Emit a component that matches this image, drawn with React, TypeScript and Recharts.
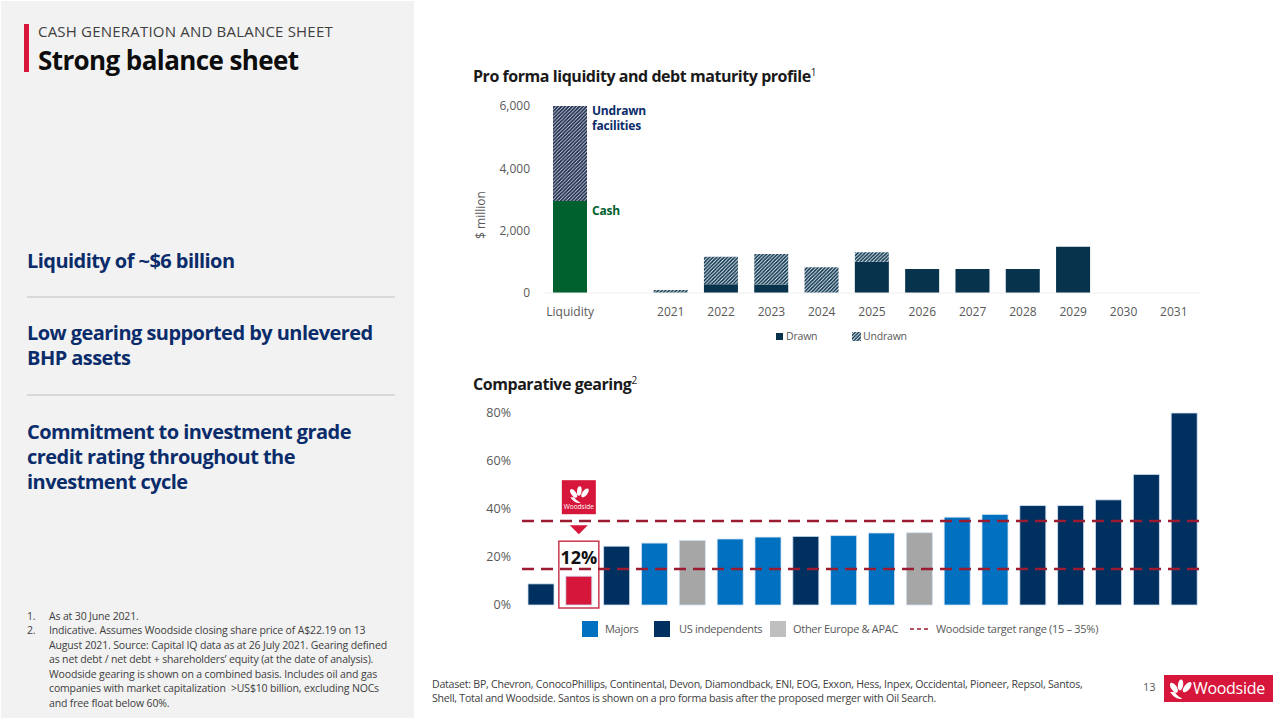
import React from 'react';
import { BarChart, Bar, XAxis, YAxis, Cell, ReferenceLine } from 'recharts';

// ---------- Data: debt maturity profile ----------
const maturityCategories = ['Liquidity', '', '2021', '2022', '2023', '2024', '2025', '2026', '2027', '2028', '2029', '2030', '2031'];
const drawnValues = [2950, 0, 0, 280, 270, 0, 1000, 770, 770, 770, 1480, 0, 0];
const undrawnValues = [3050, 0, 100, 880, 980, 830, 310, 0, 0, 0, 0, 0, 0];
const maturityTicks = [0, 2000, 4000, 6000];

// ---------- Data: comparative gearing ----------
const gearingCompanies = ['Peer 1', 'Woodside', 'Peer 3', 'Peer 4', 'Peer 5', 'Peer 6', 'Peer 7', 'Peer 8', 'Peer 9', 'Peer 10', 'Peer 11', 'Peer 12', 'Peer 13', 'Peer 14', 'Peer 15', 'Peer 16', 'Peer 17', 'Peer 18'];
const gearingGroups = ['US', 'Woodside', 'US', 'Majors', 'Other', 'Majors', 'Majors', 'US', 'Majors', 'Majors', 'Other', 'Majors', 'Majors', 'US', 'US', 'US', 'US', 'US'];
const gearingValues = [8.8, 12, 24.5, 25.8, 26.9, 27.5, 28.3, 28.6, 28.9, 30.0, 30.1, 36.6, 37.7, 41.4, 41.4, 43.8, 54.4, 80];
const gearingTicks = [0, 20, 40, 60, 80];
const targetLow = 15;
const targetHigh = 35;

const groupColors: Record<string, string> = {
  Majors: '#0070c0',
  US: '#00305f',
  Other: '#a6a6a6',
  Woodside: '#d6163a',
};

const maturityData = maturityCategories.map((c, i) => ({ category: c, drawn: drawnValues[i], undrawn: undrawnValues[i] }));
const gearingData = gearingCompanies.map((c, i) => ({ company: c, group: gearingGroups[i], value: gearingValues[i] }));

const FONT = '"Open Sans", "Noto Sans", sans-serif';
const NAVY = '#0b2c6a';
const RED = '#d6163a';
const DRAWN = '#07334d';
const CASH = '#00612e';
const DASH = '#9b1c31';
const TICK = '#595959';

const Petals = ({ x, y, s }: { x: number; y: number; s: number }) => (
  <g transform={`translate(${x},${y}) scale(${s})`} fill="#fff">
    <ellipse cx={-5.5} cy={-3} rx={2.6} ry={5.2} transform="rotate(-35 -5.5 -3)" />
    <ellipse cx={0.5} cy={-5.5} rx={2.4} ry={5} transform="rotate(8 0.5 -5.5)" />
    <ellipse cx={6.5} cy={-3.5} rx={2.6} ry={5.6} transform="rotate(38 6.5 -3.5)" />
    <path d="M-9,1 C-6,6 -1,8 2,7 C0,6 -3,4 -5,1 Z" />
  </g>
);

const GearingShape = (props: any) => {
  const { x, y, width, height, fill, payload } = props;
  const bar = <rect x={x} y={y} width={width} height={height} fill={fill} stroke="#cfe0f2" strokeWidth={0.8} />;
  if (!payload || payload.group !== 'Woodside') return bar;
  const cx = x + width / 2;
  const base = y + height;
  return (
    <g>
      {bar}
      <rect x={x - 7} y={y - 35} width={width + 14} height={base - y + 38} fill="none" stroke="#c8394f" strokeWidth={1.5} />
      <text x={cx} y={y - 19} textAnchor="middle" dominantBaseline="central" fontSize={18} fontWeight={700} fill="#111" fontFamily={FONT}>
        {`${Math.round(payload.value)}%`}
      </text>
      <polygon points={`${cx - 9},${y - 51} ${cx + 9},${y - 51} ${cx},${y - 42}`} fill={RED} />
      <rect x={cx - 17} y={y - 96} width={34} height={34} fill={RED} />
      <Petals x={cx} y={y - 80} s={0.95} />
      <text x={cx} y={y - 67} textAnchor="middle" fontSize={6.5} fill="#fff" fontFamily={FONT}>Woodside</text>
    </g>
  );
};

const abs = (left: number, top: number, extra: React.CSSProperties = {}): React.CSSProperties => ({
  position: 'absolute', left, top, whiteSpace: 'nowrap', ...extra,
});

const HatchIcon = () => (
  <svg width={9} height={9} style={{ display: 'block' }}>
    <defs>
      <pattern id="hatchLegend" patternUnits="userSpaceOnUse" width={3.5} height={3.5}>
        <rect width={3.5} height={3.5} fill="#fff" />
        <path d="M-1,1 l2,-2 M0,3.5 l3.5,-3.5 M2.5,4.5 l2,-2" stroke={DRAWN} strokeWidth={1.5} />
      </pattern>
    </defs>
    <rect width={9} height={9} fill="url(#hatchLegend)" />
  </svg>
);

const LegendSwatch = ({ left, color, label, textLeft }: { left: number; color: string; label: string; textLeft: number }) => (
  <>
    <div style={abs(left, 621, { width: 16, height: 16, background: color })} />
    <div style={abs(textLeft, 621, { fontSize: 11, letterSpacing: -0.3, lineHeight: '16px', color: TICK })}>{label}</div>
  </>
);

export default function App() {
  const headingStyle: React.CSSProperties = { color: NAVY, fontSize: 20, fontWeight: 700, lineHeight: '25px', letterSpacing: -0.55 };
  const footStyle: React.CSSProperties = { color: '#404040', fontSize: 10.5, lineHeight: '14.6px', letterSpacing: -0.15 };
  return (
    <div style={{ position: 'fixed', left: 0, top: 0, width: 1280, height: 720, background: '#fff', fontFamily: FONT, overflow: 'hidden' }}>
      {/* Left panel */}
      <div style={abs(1, 1, { width: 413, height: 717, background: '#f2f2f2' })} />
      <div style={abs(24, 24, { width: 4.5, height: 48, background: RED })} />
      <div style={abs(38, 22, { fontSize: 15, lineHeight: '18px', color: '#404040', letterSpacing: 0.2 })}>CASH GENERATION AND BALANCE SHEET</div>
      <div style={abs(38, 45, { fontSize: 26, lineHeight: '30px', fontWeight: 700, color: '#0d0d0d', letterSpacing: -0.6 })}>Strong balance sheet</div>

      <div style={abs(27, 248, headingStyle)}>Liquidity of ~$6 billion</div>
      <div style={abs(27, 296, { width: 368, height: 1.5, background: '#d9d9d9' })} />
      <div style={abs(27, 320, headingStyle)}>Low gearing supported by unlevered</div>
      <div style={abs(27, 345, headingStyle)}>BHP assets</div>
      <div style={abs(27, 394, { width: 368, height: 1.5, background: '#d9d9d9' })} />
      <div style={abs(27, 419, headingStyle)}>Commitment to investment grade</div>
      <div style={abs(27, 444, headingStyle)}>credit rating throughout the</div>
      <div style={abs(27, 469, headingStyle)}>investment cycle</div>

      <div style={abs(27, 608.5, footStyle)}>1.<br />2.</div>
      <div style={abs(49, 608.5, footStyle)}>
        As at 30 June 2021.<br />
        Indicative. Assumes Woodside closing share price of A$22.19 on 13<br />
        August 2021. Source: Capital IQ data as at 26 July 2021. Gearing defined<br />
        as net debt / net debt + shareholders’ equity (at the date of analysis).<br />
        Woodside gearing is shown on a combined basis. Includes oil and gas<br />
        companies with market capitalization &nbsp;&gt;US$10 billion, excluding NOCs<br />
        and free float below 60%.
      </div>

      {/* Top chart */}
      <div style={abs(473, 65, { fontSize: 16, fontWeight: 700, color: '#1a1a1a', lineHeight: '22px', letterSpacing: -0.45 })}>
        Pro forma liquidity and debt maturity profile<sup style={{ fontSize: 10, fontWeight: 400, verticalAlign: 'top', position: 'relative', top: -4 }}>1</sup>
      </div>
      <div style={abs(481, 215, { fontSize: 12, color: TICK, transform: 'translate(-50%,-50%) rotate(-90deg)', transformOrigin: 'center', lineHeight: '14px' })}>$ million</div>
      <div style={abs(470, 90)}>
        <BarChart width={740} height={260} data={maturityData} margin={{ top: 16, right: 11, bottom: 27, left: 0 }} barSize={34} barCategoryGap={0}>
          <defs>
            <pattern id="hatchNavy" patternUnits="userSpaceOnUse" width={3.6} height={3.6}>
              <rect width={3.6} height={3.6} fill="#fff" />
              <path d="M-1,1 l2,-2 M0,3.6 l3.6,-3.6 M2.6,4.6 l2,-2" stroke="#1b2a4e" strokeWidth={1.8} />
            </pattern>
            <pattern id="hatchTeal" patternUnits="userSpaceOnUse" width={3.6} height={3.6}>
              <rect width={3.6} height={3.6} fill="#fff" />
              <path d="M-1,1 l2,-2 M0,3.6 l3.6,-3.6 M2.6,4.6 l2,-2" stroke={DRAWN} strokeWidth={1.7} />
            </pattern>
          </defs>
          <XAxis dataKey="category" interval={0} tickLine={false} axisLine={{ stroke: '#eeeeee' }} tick={{ fontSize: 12, fill: TICK, fontFamily: FONT }} tickMargin={8} />
          <YAxis width={75} domain={[0, 6000]} ticks={maturityTicks} interval={0} tickLine={false} axisLine={false} tickSize={0} tickMargin={15}
            tick={{ fontSize: 12, fill: TICK, fontFamily: FONT }} tickFormatter={(v: number) => v.toLocaleString('en-US')} />
          <Bar dataKey="drawn" stackId="a" isAnimationActive={false}>
            {maturityData.map((d, i) => <Cell key={i} fill={i === 0 ? CASH : DRAWN} />)}
          </Bar>
          <Bar dataKey="undrawn" stackId="a" isAnimationActive={false}>
            {maturityData.map((d, i) => <Cell key={i} fill={i === 0 ? 'url(#hatchNavy)' : 'url(#hatchTeal)'} />)}
          </Bar>
        </BarChart>
      </div>
      <div style={abs(592, 103, { fontSize: 12, fontWeight: 700, color: NAVY, lineHeight: '15px', letterSpacing: -0.2 })}>Undrawn<br />facilities</div>
      <div style={abs(592, 203, { fontSize: 12, fontWeight: 700, color: CASH, lineHeight: '15px', letterSpacing: -0.2 })}>Cash</div>
      <div style={abs(776, 329, { fontSize: 10.5, color: TICK, lineHeight: '14px', display: 'flex', alignItems: 'center', letterSpacing: -0.2 })}>
        <span style={{ display: 'inline-block', width: 7, height: 7, background: DRAWN, marginRight: 3 }} />Drawn
      </div>
      <div style={abs(852, 329, { fontSize: 10.5, color: TICK, lineHeight: '14px', display: 'flex', alignItems: 'center', letterSpacing: -0.2 })}>
        <span style={{ marginRight: 2 }}><HatchIcon /></span>Undrawn
      </div>

      {/* Bottom chart */}
      <div style={abs(473, 373, { fontSize: 16, fontWeight: 700, color: '#1a1a1a', lineHeight: '22px', letterSpacing: -0.45 })}>
        Comparative gearing<sup style={{ fontSize: 10, fontWeight: 400, verticalAlign: 'top', position: 'relative', top: -4 }}>2</sup>
      </div>
      <div style={abs(470, 400)}>
        <BarChart width={733} height={215} data={gearingData} margin={{ top: 13, right: 0, bottom: 10, left: 0 }} barSize={26}>
          <XAxis dataKey="company" hide />
          <YAxis width={52} domain={[0, 80]} ticks={gearingTicks} interval={0} tickLine={false} axisLine={false} tickSize={0} tickMargin={11}
            tick={{ fontSize: 12.5, fill: TICK, fontFamily: FONT }} tickFormatter={(v: number) => `${v}%`} />
          <Bar dataKey="value" isAnimationActive={false} shape={<GearingShape />}>
            {gearingData.map((d, i) => <Cell key={i} fill={groupColors[d.group]} />)}
          </Bar>
          <ReferenceLine y={targetHigh} stroke={DASH} strokeWidth={2.5} strokeDasharray="12 7" />
          <ReferenceLine y={targetLow} stroke={DASH} strokeWidth={2.5} strokeDasharray="12 7" />
        </BarChart>
      </div>
      <LegendSwatch left={582} color={groupColors.Majors} label="Majors" textLeft={605} />
      <LegendSwatch left={654} color={groupColors.US} label="US independents" textLeft={679} />
      <LegendSwatch left={770} color="#bfbfbf" label="Other Europe & APAC" textLeft={793} />
      <svg style={abs(910, 627)} width={19} height={4}>
        <line x1={0} y1={2} x2={19} y2={2} stroke={DASH} strokeWidth={1.5} strokeDasharray="4 3" />
      </svg>
      <div style={abs(936, 621, { fontSize: 11, letterSpacing: -0.3, lineHeight: '16px', color: TICK })}>Woodside target range (15 – 35%)</div>

      {/* Footer */}
      <div style={abs(432, 677, { fontSize: 10.6, color: '#404040', lineHeight: '14px', letterSpacing: -0.25 })}>
        Dataset: BP, Chevron, ConocoPhillips, Continental, Devon, Diamondback, ENI, EOG, Exxon, Hess, Inpex, Occidental, Pioneer, Repsol, Santos,<br />
        Shell, Total and Woodside. Santos is shown on a pro forma basis after the proposed merger with Oil Search.
      </div>
      <div style={abs(1143, 680, { fontSize: 11, color: TICK, lineHeight: '14px' })}>13</div>
      <div style={abs(1164, 675, { width: 109, height: 27, background: RED })}>
        <svg width={109} height={27} style={{ display: 'block' }}>
          <Petals x={16} y={16} s={1.1} />
          <text x={29} y={19} fontSize={16} fill="#fff" fontFamily={FONT} letterSpacing={-0.3}>Woodside</text>
        </svg>
      </div>
    </div>
  );
}
